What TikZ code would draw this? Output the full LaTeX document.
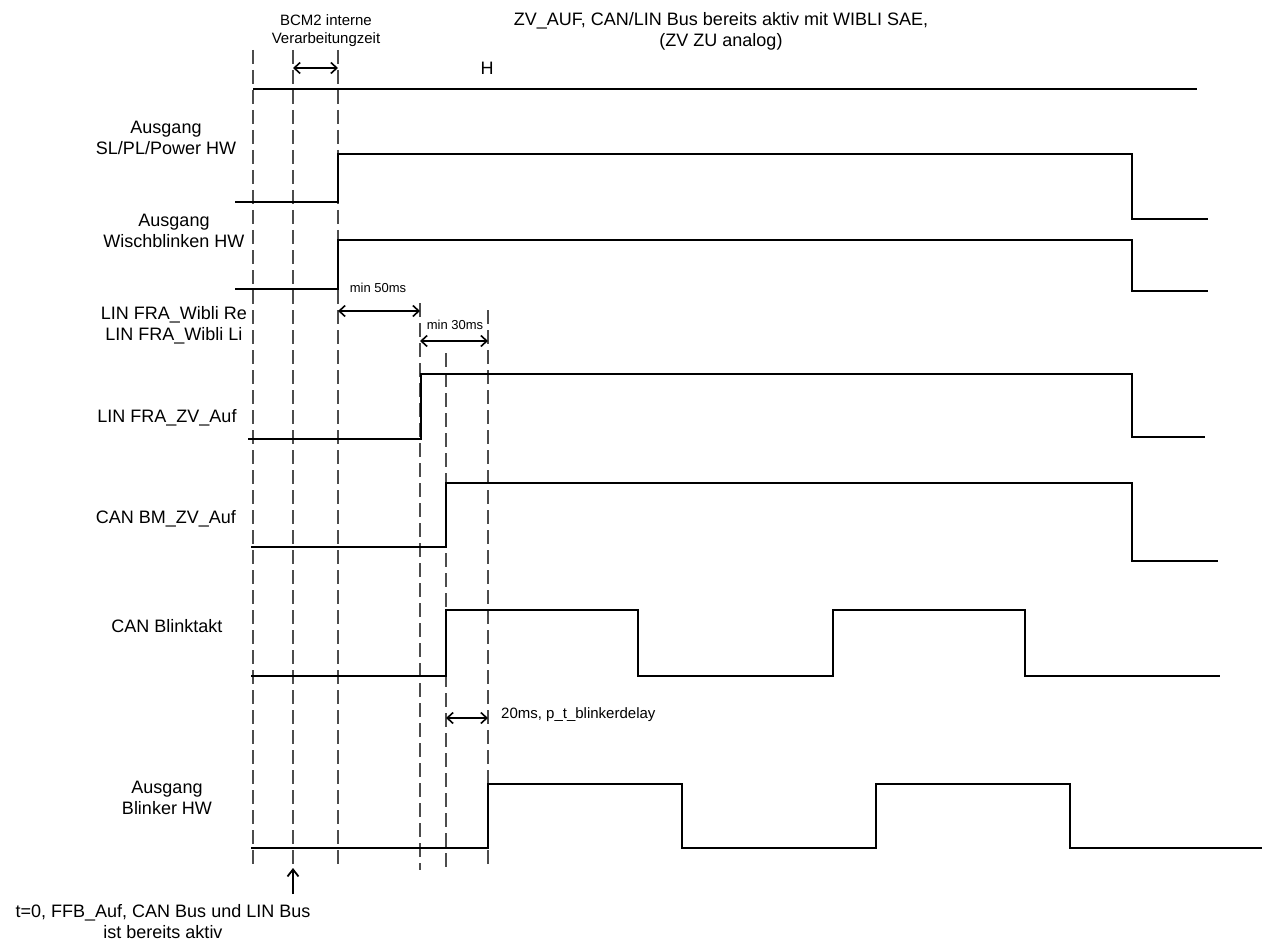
\documentclass[tikz,border=0pt]{standalone}
\usepackage{fontspec}
\setmainfont{Liberation Sans}
\usepackage{tikz}
\usetikzlibrary{arrows.meta}
\newcommand{\SchriftGross}{\fontsize{18}{21}\selectfont}
\newcommand{\SchriftMittel}{\fontsize{15}{18}\selectfont}
\newcommand{\SchriftKlein}{\fontsize{13}{15}\selectfont}
\tikzset{
  %% ── Linien ───────────────────────────────────────────────────────────
  signal/.style      = {draw=black, line width=2.2pt, line join=miter},
  hilfslinie/.style  = {draw=black!70, line width=1.3pt,
                        dash pattern=on 14pt off 6pt},
  %%
  %% ── Pfeile ───────────────────────────────────────────────────────────
  masspfeil/.style   = {{Straight Barb[length=6pt, width=11pt]}-{Straight Barb[length=6pt, width=11pt]},
                        line width=1.6pt},
  zeigepfeil/.style  = {-{Straight Barb[length=7pt, width=11pt]},
                        line width=1.8pt},
  %%
  %% ── Text ─────────────────────────────────────────────────────────────
  signalname/.style  = {font=\SchriftGross, align=center, inner sep=0pt},
  massangabe/.style  = {font=\SchriftKlein, inner sep=0pt},
  notiz/.style       = {font=\SchriftMittel, align=center, inner sep=0pt},
}

\begin{document}
\begin{tikzpicture}[x=1pt, y=-1pt, font=\SchriftGross]
\useasboundingbox (0,0) rectangle (1265,941);

%% Kopf
\node[signalname] (titel) at (721, 31)
     {ZV\_AUF, CAN/LIN Bus bereits aktiv mit WIBLI SAE,\\(ZV ZU analog)};
\node[notiz] (bcm) at (326, 31) {BCM2 interne\\Verarbeitungzeit};
\node[signalname] (pegelH) at (487, 68) {H};

%% Zeitmarken (gestrichelt)
\foreach \x/\ya/\yb in {253/50/870, 293/50/864, 338/50/870,
                        420/303/870, 446/353/870, 488/310/870}
  \draw[hilfslinie] (\x,\ya) -- (\x,\yb);

%% Signalnamen
\node[signalname] (sigPower) at (166, 138) {Ausgang\\SL/PL/Power HW};
\node[signalname] (sigWisch) at (174, 231) {Ausgang\\Wischblinken HW};
\node[signalname] (sigWibli) at (174, 325) {LIN FRA\_Wibli Re\\LIN FRA\_Wibli Li};
\node[signalname] (sigLinZv) at (167, 418) {LIN FRA\_ZV\_Auf};
\node[signalname] (sigCanZv) at (166, 519) {CAN BM\_ZV\_Auf};
\node[signalname] (sigTakt)  at (167, 626) {CAN Blinktakt};
\node[signalname] (sigBlink) at (167, 798) {Ausgang\\Blinker HW};

%% Verlaeufe
\draw[signal] (253,89) -- (1197,89);
\draw[signal] (235,202) -- (338,202) -- (338,154) -- (1132,154)
              -- (1132,219) -- (1208,219);
\draw[signal] (235,289) -- (338,289) -- (338,240) -- (1132,240)
              -- (1132,291) -- (1208,291);
\draw[signal] (248,439) -- (421,439) -- (421,374) -- (1132,374)
              -- (1132,437) -- (1205,437);
\draw[signal] (251,547) -- (446,547) -- (446,483) -- (1132,483)
              -- (1132,561) -- (1218,561);
\draw[signal] (251,676) -- (446,676) -- (446,610) -- (638,610)
              -- (638,676) -- (833,676) -- (833,610) -- (1025,610)
              -- (1025,676) -- (1220,676);
\draw[signal] (251,848) -- (488,848) -- (488,784) -- (682,784)
              -- (682,848) -- (876,848) -- (876,784) -- (1070,784)
              -- (1070,848) -- (1262,848);

%% Zeitabstaende
\coordinate (bcmA) at (293,68);   \coordinate (bcmB) at (338,68);
\coordinate (m50A) at (338,311);  \coordinate (m50B) at (420,311);
\coordinate (m30A) at (420,341);  \coordinate (m30B) at (488,341);
\coordinate (dlyA) at (446,718);  \coordinate (dlyB) at (488,718);
\draw[masspfeil] (bcmA) -- (bcmB);
\draw[masspfeil] (m50A) -- (m50B);
\draw[masspfeil] (m30A) -- (m30B);
\draw[masspfeil] (dlyA) -- (dlyB);
\node[massangabe] (lbl50) at (378, 288) {min 50ms};
\node[massangabe] (lbl30) at (455, 325) {min 30ms};
\node[notiz, anchor=west] (lblDly) at (501, 715) {20ms, p\_t\_blinkerdelay};

%% Startzeitpunkt
\node[signalname] (start) at (163, 922)
     {t=0, FFB\_Auf, CAN Bus und LIN Bus\\ist bereits aktiv};
\coordinate (startPfeil) at (293,868);
\draw[zeigepfeil] (293,894) -- (startPfeil);

\end{tikzpicture}
\end{document}
